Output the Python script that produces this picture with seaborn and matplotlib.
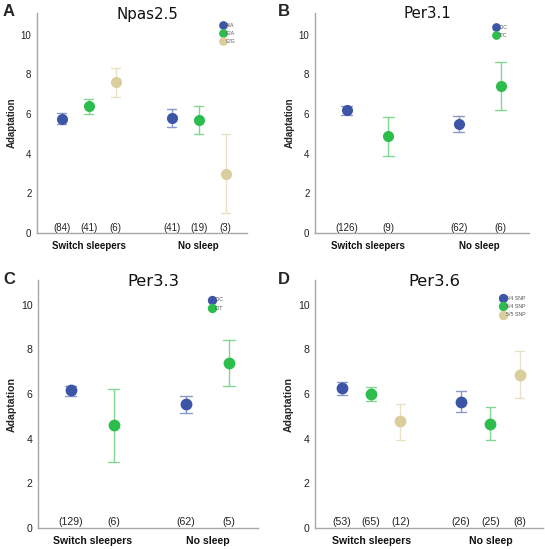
import numpy as np
import pandas as pd
import seaborn as sn
import matplotlib.pyplot as plt
from matplotlib.lines import Line2D

# groups on the x axis
groups = ["Switch sleepers", "No sleep"]

# Npas2.5
npas_geno = ["A/A", "G/A", "G/G"]
npas_mean = [[5.77, 6.39, 7.60], [5.80, 5.70, 3.00]]
npas_lo = [[5.52, 6.02, 6.86], [5.35, 5.02, 1.02]]
npas_hi = [[6.04, 6.78, 8.32], [6.27, 6.39, 5.02]]
npas_n = [[84, 41, 6], [41, 19, 3]]

# Per3.1
per31_geno = ["C/C", "T/C"]
per31_mean = [[6.19, 4.88], [5.50, 7.41]]
per31_lo = [[5.97, 3.90], [5.12, 6.20]]
per31_hi = [[6.39, 5.87], [5.89, 8.61]]
per31_n = [[126, 9], [62, 6]]

# Per3.3
per33_geno = ["C/C", "C/T"]
per33_mean = [[6.16, 4.61], [5.53, 7.39]]
per33_lo = [[5.93, 2.97], [5.14, 6.37]]
per33_hi = [[6.35, 6.23], [5.92, 8.42]]
per33_n = [[129, 6], [62, 5]]

# Per3.6
per36_geno = ["4/4 SNP", "5/4 SNP", "5/5 SNP"]
per36_mean = [[6.25, 6.01, 4.77], [5.65, 4.65, 6.87]]
per36_lo = [[5.97, 5.67, 3.96], [5.20, 3.94, 5.80]]
per36_hi = [[6.55, 6.33, 5.55], [6.12, 5.40, 7.92]]
per36_n = [[53, 65, 12], [26, 25, 8]]

colours = ["#3c55a6", "#2dbd4c", "#d9ce9c"]

W, H = 545, 549


def make_frame(geno, mean, lo, hi):
    '''three rows per point (low, mean, high): median gives the mean, min/max give the bar'''
    rows = []
    for gi, g in enumerate(groups):
        for hi_, gt in enumerate(geno):
            for v in (lo[gi][hi_], mean[gi][hi_], hi[gi][hi_]):
                rows.append({"group": g, "geno": gt, "Adaptation": v})
    return pd.DataFrame(rows)


def panel(fig, box, letter, letter_x, title, geno, mean, lo, hi, n, leg_anchor, fs, dodge):
    x0, y0, x1, y1 = box
    ax = fig.add_axes([x0 / W, 1 - y1 / H, (x1 - x0) / W, (y1 - y0) / H])
    df = make_frame(geno, mean, lo, hi)
    k = len(geno)
    pal = dict(zip(geno, colours[:k]))
    sn.pointplot(data=df, x="group", y="Adaptation", hue="geno", order=groups,
                 hue_order=geno, palette=pal, estimator="median",
                 errorbar=lambda v: (v.min(), v.max()), dodge=dodge,
                 linestyle="none", markers="o", markersize=fs * 0.85,
                 capsize=0.08 if k == 3 else 0.1, err_kws={"linewidth": 1.0, "alpha": 0.6},
                 legend=False, ax=ax)
    ax.set_xlim(-0.47, 1.44)
    ax.set_ylim(0, 11.1)
    ax.set_yticks([0, 2, 4, 6, 8, 10])
    ax.set_xlabel("")
    ax.set_ylabel("Adaptation", fontsize=fs, fontweight="bold", labelpad=3)
    for s in ["top", "right"]:
        ax.spines[s].set_visible(False)
    for s in ["left", "bottom"]:
        ax.spines[s].set_color("#a8a8a8")
        ax.spines[s].set_linewidth(1.0)
    ax.tick_params(axis="y", length=3, pad=1, color="#a8a8a8", labelsize=fs, labelcolor="#222222")
    ax.tick_params(axis="x", length=4, pad=1.5, color="#888888", labelsize=fs, labelcolor="#111111")
    for lab in ax.get_xticklabels():
        lab.set_fontweight("bold")
    # counts above the x axis, under each point
    offs = np.linspace(-dodge / 2, dodge / 2, k)
    for gi in range(len(groups)):
        for hi_ in range(k):
            ax.text(gi + offs[hi_], 0.25, f"({n[gi][hi_]})", ha="center", va="center",
                    fontsize=fs, color="#222222")
    handles = [Line2D([], [], marker="o", linestyle="none", color=c, markersize=fs * 0.75)
               for c in colours[:k]]
    ax.legend(handles, geno, loc="upper left", bbox_to_anchor=leg_anchor, frameon=False,
              fontsize=3.8, handletextpad=0.0, labelspacing=0.6, borderpad=0,
              handlelength=1.0, borderaxespad=0, labelcolor="#555555")
    fig.text((x0 + x1) / 2 / W + 0.01, 1 - (y0 + 1) / H, title, ha="center", va="center",
             fontsize=fs * 1.55, color="#111111", family="DejaVu Sans")
    fig.text(letter_x / W, 1 - (y0 - 1) / H, letter, ha="left", va="center", fontsize=12,
             fontweight="bold")
    return ax


sn.set_style("white")
plt.rcParams["font.family"] = ["Liberation Sans", "DejaVu Sans"]

fig = plt.figure(figsize=(W / 100, H / 100), dpi=100)
panel(fig, (37, 13, 247, 233), "A", 3, "Npas2.5", npas_geno, npas_mean, npas_lo, npas_hi,
      npas_n, (0.875, 0.955), 7, 0.49)
panel(fig, (315, 13, 529, 233), "B", 278, "Per3.1", per31_geno, per31_mean, per31_lo,
      per31_hi, per31_n, (0.835, 0.945), 7, 0.372)
panel(fig, (38, 280, 258, 528), "C", 3, "Per3.3", per33_geno, per33_mean, per33_lo, per33_hi,
      per33_n, (0.78, 0.93), 7.6, 0.374)
panel(fig, (315, 280, 543, 528), "D", 278, "Per3.6", per36_geno, per36_mean, per36_lo,
      per36_hi, per36_n, (0.815, 0.935), 7.6, 0.49)

fig.savefig("out.png", dpi=100)
